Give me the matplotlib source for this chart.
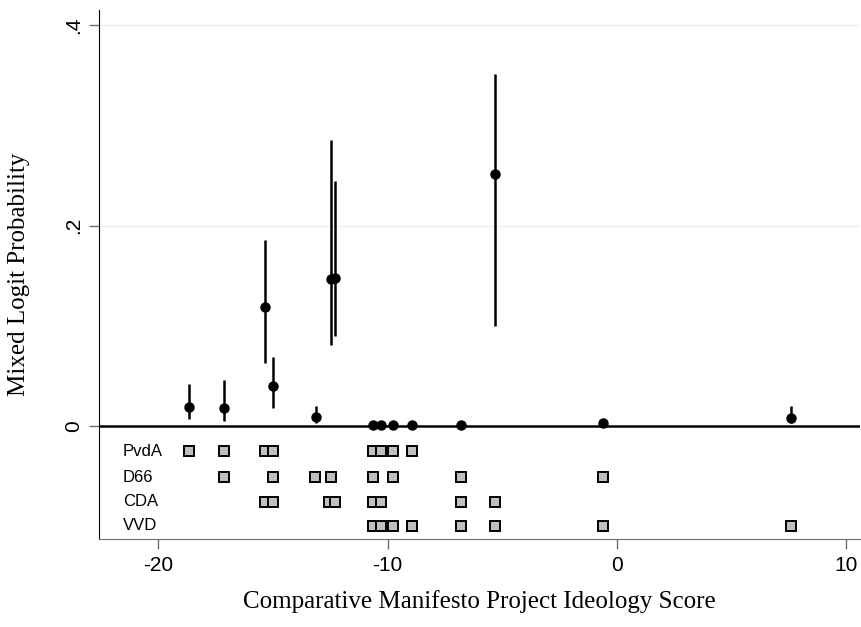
import matplotlib.pyplot as plt
import numpy as np

# point estimates with confidence bounds
score = [-18.66, -17.12, -15.36, -14.98, -13.10, -12.48, -12.29, -10.65,
         -10.29, -9.74, -8.93, -6.78, -5.32, -0.60, 7.57]
prob = [0.0185, 0.018, 0.119, 0.040, 0.0085, 0.1464, 0.148, 0.0005,
        0.0005, 0.0005, 0.0005, 0.0007, 0.2514, 0.0025, 0.0082]
lower = [0.0066, 0.005, 0.0627, 0.018, 0.0027, 0.0808, 0.090, 0.0005,
         0.0005, 0.0005, 0.0005, 0.0007, 0.100, 0.0025, 0.003]
upper = [0.042, 0.0455, 0.1855, 0.069, 0.020, 0.2856, 0.2449, 0.0005,
         0.0005, 0.0005, 0.0005, 0.0007, 0.352, 0.0025, 0.020]

# party manifesto positions
parties = ['PvdA', 'D66', 'CDA', 'VVD']
pvda = [-18.66, -17.12, -15.36, -14.98, -10.65, -10.29, -9.74, -8.93]
d66 = [-17.12, -14.98, -13.15, -12.48, -10.65, -9.74, -6.78, -0.60]
cda = [-15.36, -14.98, -12.53, -12.29, -10.65, -10.29, -6.78, -5.32]
vvd = [-10.65, -10.29, -9.74, -8.93, -6.78, -5.32, -0.60, 7.57]
party_scores = [pvda, d66, cda, vvd]
row_y = [-0.0251, -0.0515, -0.0758, -0.0999]

fig = plt.figure(figsize=(8.62, 6.27), dpi=100)
ax = fig.add_axes([0.1152, 0.1404, 0.8825, 0.8436])

# faint grid at label values
for g in [0.2, 0.4]:
    ax.axhline(g, color='#f0f0f0', lw=1, zorder=0)
ax.axhline(0, color='black', lw=1.8, zorder=1)

score = np.array(score)
prob = np.array(prob)
ax.vlines(score, lower, upper, color='black', lw=1.8, zorder=2)
ax.plot(score, prob, 'o', color='black', ms=6.5, zorder=3)

for name, xs, y in zip(parties, party_scores, row_y):
    ax.plot(xs, [y] * len(xs), 's', ms=7, mfc='#c0c0c0', mec='black',
            mew=1.4, zorder=3)
    ax.text(-21.54, y, name, ha='left', va='center', fontsize=12,
            family='Liberation Sans')

ax.set_xlim(-22.56, 10.59)
ax.set_ylim(-0.1129, 0.4154)

ax.set_xticks([-20, -10, 0, 10])
ax.set_xticklabels(['-20', '-10', '0', '10'], family='Liberation Sans', fontsize=15)
ax.set_yticks([0, 0.2, 0.4])
ax.set_yticklabels(['0', '.2', '.4'], family='Liberation Sans', fontsize=15,
                   rotation=90, va='center')

ax.tick_params(axis='both', length=7, width=1, color='#707070', pad=5)
for s in ['top', 'right']:
    ax.spines[s].set_visible(False)
ax.spines['left'].set_color('black')
ax.spines['bottom'].set_color('#707070')

ax.set_xlabel('Comparative Manifesto Project Ideology Score',
              family='Liberation Serif', fontsize=18, labelpad=11)
ax.set_ylabel('Mixed Logit Probability', family='Liberation Serif',
              fontsize=18, labelpad=24)

fig.savefig('out.png', dpi=100)
